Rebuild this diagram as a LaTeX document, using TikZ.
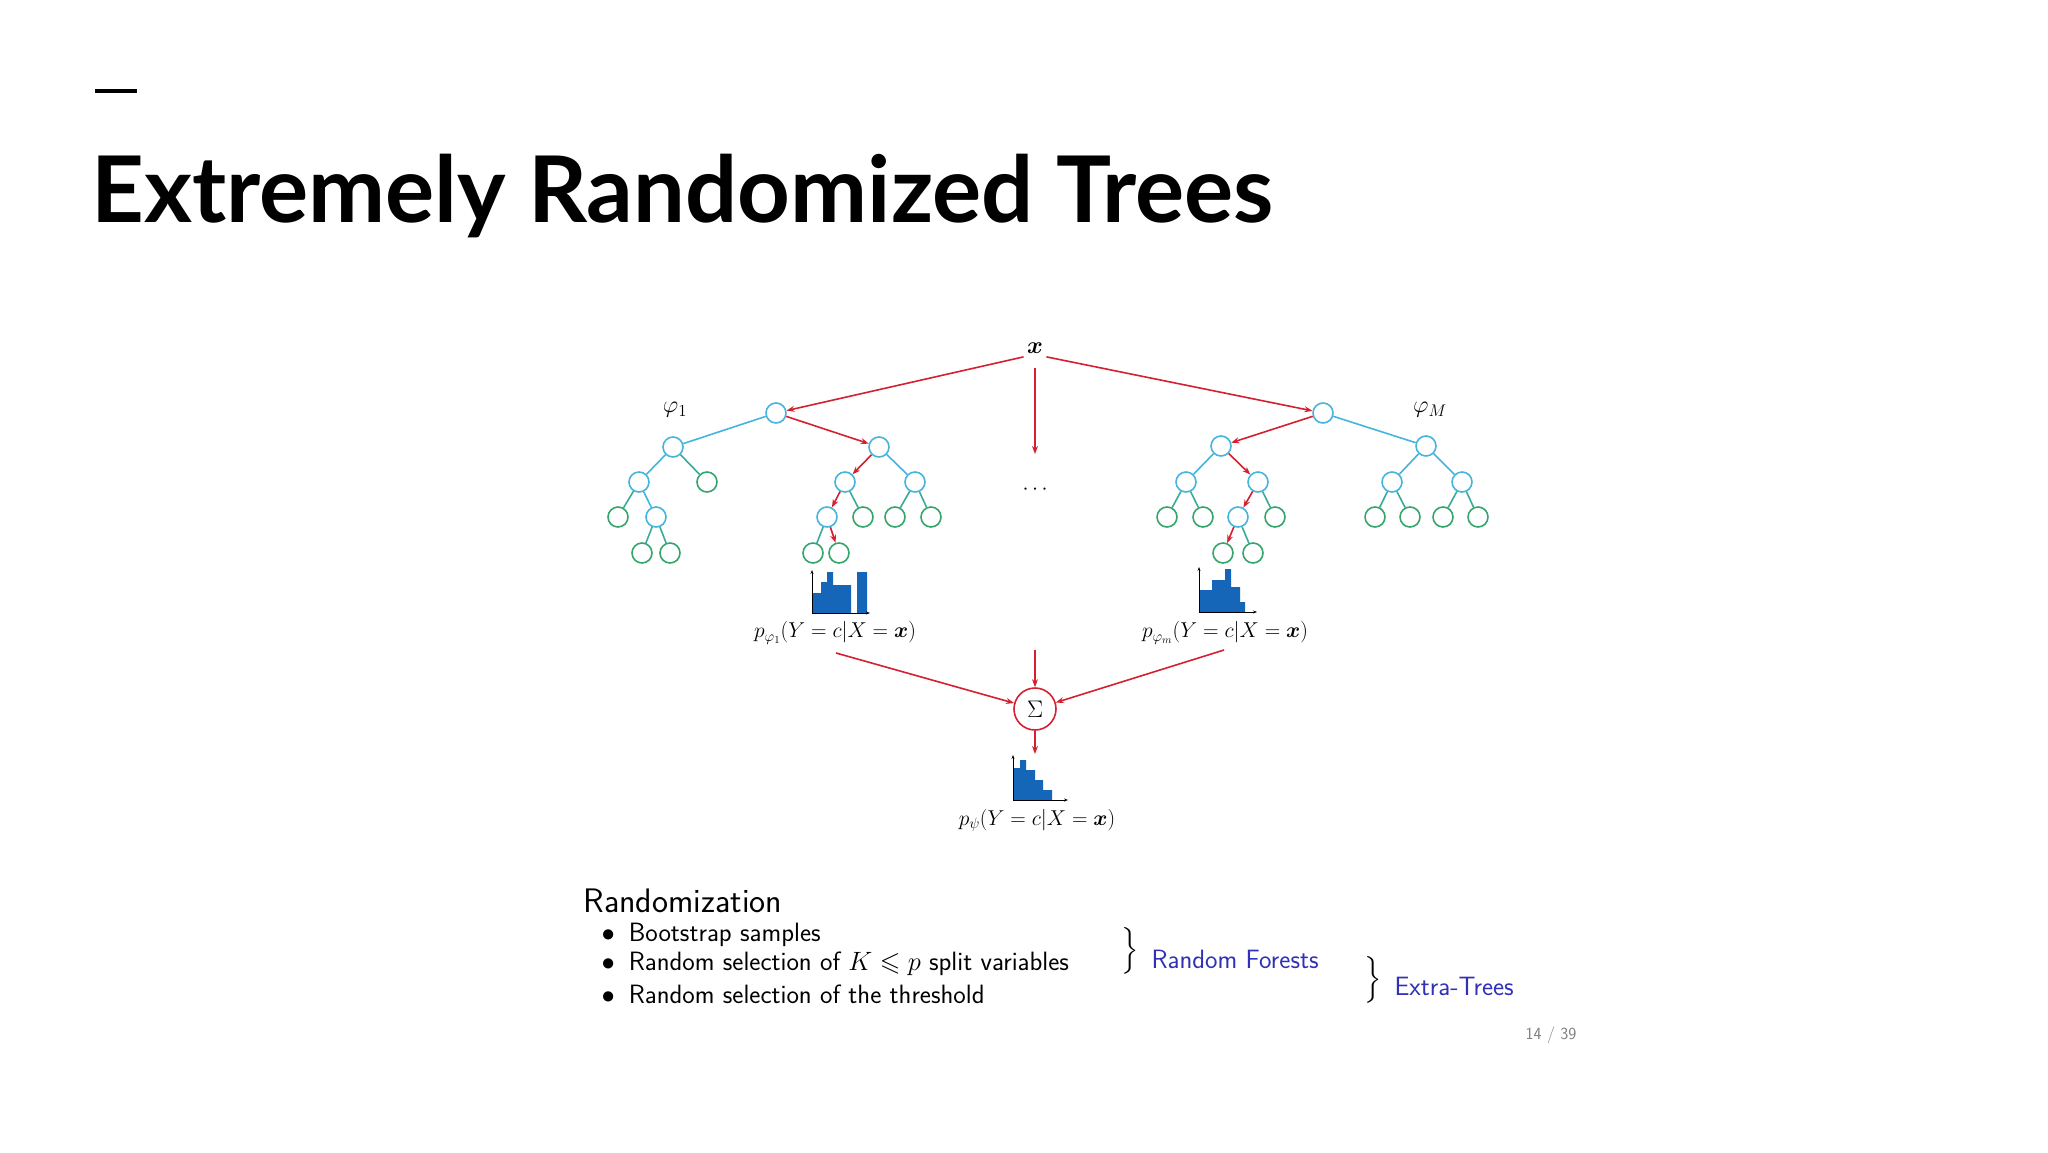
\RequirePackage{fix-cm}
\documentclass[tikz,border=0pt]{standalone}
\usepackage{amsmath,amssymb,bm}
\usepackage{fontspec}
\newfontfamily\titlefont{Lato}
\usetikzlibrary{arrows.meta}
\definecolor{cblue}{HTML}{45B5DC}
\definecolor{cgreen}{HTML}{34A56C}
\definecolor{cred}{HTML}{D42030}
\definecolor{hblue}{HTML}{1565B8}
\definecolor{navy}{HTML}{3030B8}
\begin{document}
\begin{tikzpicture}[x=1pt,y=-1pt,
  inn/.style={circle,draw=cblue,line width=1.6pt,minimum size=20pt,inner sep=0pt,fill=white},
  lf/.style={circle,draw=cgreen,line width=1.6pt,minimum size=20pt,inner sep=0pt,fill=white},
  be/.style={draw=cblue,line width=1.6pt},
  ge/.style={draw=cgreen!60!cblue,line width=1.6pt},
  re/.style={draw=cred,line width=1.6pt,-{Stealth[length=8pt,width=6pt]}},
  lab/.style={font=\fontsize{21.5}{24}\selectfont},
  txt/.style={font=\sffamily\fontsize{26.5}{30}\selectfont,anchor=west}]
\useasboundingbox (0,0) rectangle (2048,1152);
\fill[white] (0,0) rectangle (2048,1152);
% title
\draw[line width=4pt] (95,91) -- (137,91);
\node[anchor=base west,inner sep=0pt,font=\titlefont\bfseries\fontsize{92}{100}\selectfont] (title) at (91,222) {Extremely Randomized Trees};
% top
\node[lab,font=\fontsize{24}{26}\selectfont] (x) at (1035,348) {$\bm{x}$};
\node[lab,font=\fontsize{24}{26}\selectfont] (p1) at (675,410) {$\varphi_1$};
\node[lab,font=\fontsize{24}{26}\selectfont] (pM) at (1430,410) {$\varphi_M$};
\node[lab] (dots) at (1037,490) {$\cdots$};
\coordinate (xd) at (1035,368);
\coordinate (dd) at (1035,454);
% left tree
\node[inn] (a) at (776,413) {};
\node[inn] (aL) at (673,447) {};
\node[inn] (aR) at (879,447) {};
\node[inn] (aLL) at (639,482) {};
\node[lf] (aLR) at (707,482) {};
\node[lf] (aLLL) at (618,517) {};
\node[inn] (aLLR) at (656,517) {};
\node[lf] (aLLRL) at (642,553) {};
\node[lf] (aLLRR) at (670,553) {};
\node[inn] (aRL) at (845,482) {};
\node[inn] (aRR) at (915,482) {};
\node[inn] (aRLL) at (827,517) {};
\node[lf] (aRLR) at (863,517) {};
\node[lf] (aRRL) at (895,517) {};
\node[lf] (aRRR) at (931,517) {};
\node[lf] (aRLLL) at (813,553) {};
\node[lf] (aRLLR) at (839,553) {};
% right tree
\node[inn] (b) at (1323,413) {};
\node[inn] (bL) at (1221,446) {};
\node[inn] (bR) at (1426,446) {};
\node[inn] (bLL) at (1186,482) {};
\node[inn] (bLR) at (1258,482) {};
\node[lf] (bLLL) at (1167,517) {};
\node[lf] (bLLR) at (1203,517) {};
\node[inn] (bLRL) at (1238,517) {};
\node[lf] (bLRR) at (1275,517) {};
\node[lf] (bLRLL) at (1223,553) {};
\node[lf] (bLRLR) at (1253,553) {};
\node[inn] (bRL) at (1392,482) {};
\node[inn] (bRR) at (1462,482) {};
\node[lf] (bRLL) at (1375,517) {};
\node[lf] (bRLR) at (1410,517) {};
\node[lf] (bRRL) at (1443,517) {};
\node[lf] (bRRR) at (1478,517) {};
% edges
\draw[be] (a)--(aL); \draw[be] (aL)--(aLL); \draw[be] (aLL)--(aLLR); \draw[be] (aR)--(aRR);
\draw[ge] (aL)--(aLR); \draw[ge] (aLL)--(aLLL); \draw[ge] (aLLR)--(aLLRL); \draw[ge] (aLLR)--(aLLRR);
\draw[ge] (aRL)--(aRLR); \draw[ge] (aRR)--(aRRL); \draw[ge] (aRR)--(aRRR); \draw[ge] (aRLL)--(aRLLL);
\draw[re] (a)--(aR); \draw[re] (aR)--(aRL); \draw[re] (aRL)--(aRLL); \draw[re] (aRLL)--(aRLLR);
\draw[be] (b)--(bR); \draw[be] (bR)--(bRL); \draw[be] (bR)--(bRR); \draw[be] (bL)--(bLL);
\draw[ge] (bLL)--(bLLL); \draw[ge] (bLL)--(bLLR); \draw[ge] (bLR)--(bLRR); \draw[ge] (bLRL)--(bLRLR);
\draw[ge] (bRL)--(bRLL); \draw[ge] (bRL)--(bRLR); \draw[ge] (bRR)--(bRRL); \draw[ge] (bRR)--(bRRR);
\draw[re] (b)--(bL); \draw[re] (bL)--(bLR); \draw[re] (bLR)--(bLRL); \draw[re] (bLRL)--(bLRLL);
\draw[re] (x.south west)--(a); \draw[re] (x.south east)--(b);
\draw[re] (xd)--(dd);
% histograms
\fill[hblue] (813,613) |- (821,593) |- (827,582) |- (833,572) |- (838,585) |- (851,585) |- (855,613) -- cycle;
\fill[hblue] (857,613) |- (857,572) -- (867,572) -- (867,613) -- cycle;
\draw[line width=1pt,-{Stealth[length=4pt]}] (812,613)--(812,570) ;
\draw[line width=1pt,-{Stealth[length=4pt]}] (812,613)--(870,613);
\fill[hblue] (1199,612) |- (1212,590) |- (1225,580) |- (1231,569) |- (1240,587) |- (1245,602) |- (1253,612) -- cycle;
\draw[line width=1pt,-{Stealth[length=4pt]}] (1199,612)--(1199,567);
\draw[line width=1pt,-{Stealth[length=4pt]}] (1199,612)--(1257,612);
\fill[hblue] (1013,800) |- (1020,768) |- (1026,760) |- (1035,770) |- (1043,780) |- (1052,790) |- (1064,800) -- cycle;
\draw[line width=1pt,-{Stealth[length=4pt]}] (1013,800)--(1013,755);
\draw[line width=1pt,-{Stealth[length=4pt]}] (1013,800)--(1068,800);
\node[lab] (l1) at (835,633) {$p_{\varphi_1}(Y=c|X=\bm{x})$};
\node[lab] (lm) at (1225,633) {$p_{\varphi_m}(Y=c|X=\bm{x})$};
\node[lab] (lp) at (1037,820) {$p_{\psi}(Y=c|X=\bm{x})$};
% sum
\node[circle,draw=cred,line width=1.6pt,minimum size=42pt,inner sep=0pt,font=\fontsize{24}{26}\selectfont] (s) at (1035,709) {$\Sigma$};
\coordinate (ls) at (836,653);
\coordinate (rs) at (1224,650);
\coordinate (ts) at (1035,650);
\coordinate (hs) at (1035,754);
\draw[re] (ls)--(s); \draw[re] (rs)--(s); \draw[re] (ts)--(s); \draw[re] (s)--(hs);
% text
\node[txt,font=\sffamily\fontsize{34}{38}\selectfont] (rz) at (580,901) {Randomization};
\node[txt] (t1) at (598,935) {$\bullet$\hspace{14pt}Bootstrap samples};
\node[txt] (t2) at (598,964) {$\bullet$\hspace{14pt}Random selection of $K\leqslant p$ split variables};
\node[txt] (t3) at (598,994) {$\bullet$\hspace{14pt}Random selection of the threshold};
\node[txt,font=\fontsize{26}{28}\selectfont] (b1) at (1118,951) {$\Big\}$};
\node[txt,text=navy] (rf) at (1148,959) {Random Forests};
\node[txt,font=\fontsize{26}{28}\selectfont] (b2) at (1361,980) {$\Big\}$};
\node[txt,text=navy] (et) at (1391,986) {Extra-Trees};
\node[font=\sffamily\fontsize{17}{19}\selectfont,text=gray] (pg) at (1551,1035) {14 / 39};
\end{tikzpicture}
\end{document}
